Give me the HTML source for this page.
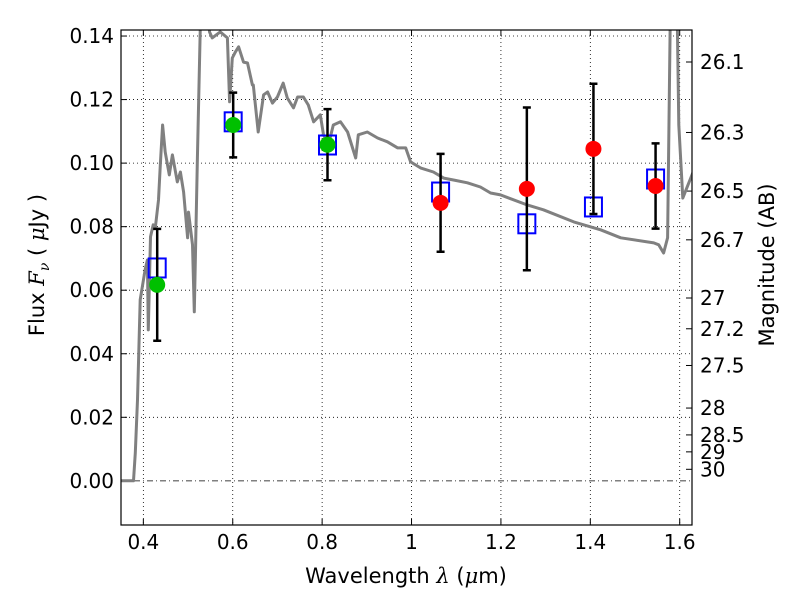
<!DOCTYPE html>
<html><head><meta charset="utf-8"><style>
html,body{margin:0;padding:0;background:#fff;}
svg{display:block;font-family:"DejaVu Sans","Liberation Sans",sans-serif;}
</style></head><body>
<svg id="chart" width="800" height="600"></svg>
<script>
const xTicks=[0.4,0.6,0.8,1.0,1.2,1.4,1.6];
const xTickLabels=["0.4","0.6","0.8","1","1.2","1.4","1.6"];
const yTicks=[0,0.02,0.04,0.06,0.08,0.10,0.12,0.14];
const yTickLabels=["0.00","0.02","0.04","0.06","0.08","0.10","0.12","0.14"];
const magTicks=[26.1,26.3,26.5,26.7,27,27.2,27.5,28,28.5,29,30];
const magLabels=["26.1","26.3","26.5","26.7","27","27.2","27.5","28","28.5","29","30"];
const specLam=[0.351,0.378,0.382,0.387,0.393,0.404,0.409,0.411,0.416,0.422,0.427,0.434,0.438,0.443,0.449,0.458,0.465,0.476,0.483,0.490,0.499,0.501,0.510,0.514,0.521,0.53,0.545,0.548,0.554,0.572,0.588,0.593,0.599,0.606,0.613,0.624,0.633,0.644,0.646,0.657,0.669,0.678,0.689,0.700,0.713,0.722,0.736,0.745,0.758,0.769,0.781,0.796,0.803,0.814,0.825,0.841,0.857,0.875,0.881,0.901,0.924,0.946,0.969,0.987,0.998,1.020,1.049,1.072,1.094,1.125,1.154,1.177,1.199,1.260,1.295,1.363,1.423,1.468,1.542,1.553,1.564,1.573,1.580,1.593,1.598,1.607,1.63];
const specFlux=[0,0,0.0088,0.0255,0.057,0.0664,0.0695,0.0475,0.0768,0.0806,0.0799,0.0884,0.0994,0.112,0.1035,0.0963,0.1026,0.0941,0.0972,0.0909,0.0765,0.0846,0.0743,0.0532,0.1016,0.16,0.16,0.1413,0.1394,0.1413,0.1394,0.1193,0.1331,0.135,0.1366,0.1318,0.1315,0.1246,0.1246,0.1098,0.1215,0.1224,0.1189,0.1208,0.1252,0.1205,0.1174,0.1208,0.1208,0.1183,0.113,0.1152,0.1089,0.1057,0.112,0.113,0.1098,0.1016,0.1089,0.1098,0.1079,0.1067,0.1048,0.1048,0.1004,0.0985,0.0972,0.0953,0.0947,0.0938,0.0925,0.0906,0.09,0.0868,0.0853,0.0815,0.079,0.0765,0.0749,0.0743,0.0717,0.0765,0.16,0.16,0.112,0.089,0.0972];
const obsLam=[0.431,0.601,0.812,1.065,1.258,1.407,1.546];
const obsFlux=[0.0617,0.112,0.1058,0.0875,0.0919,0.1045,0.0928];
const obsErr=[0.0176,0.0102,0.0112,0.0154,0.0256,0.0205,0.0134];
const obsGreen=[true,true,true,false,false,false,false];
const modelFlux=[0.067,0.113,0.1057,0.0909,0.0809,0.0862,0.095];

const L=121,R=692,T=30,B=525;
const xMin=0.35,xMax=1.6275,yMin=-0.0139,yMax=0.1419;
const X=v=>L+(v-xMin)/(xMax-xMin)*(R-L);
const Y=v=>B-(v-yMin)/(yMax-yMin)*(B-T);
const NS="http://www.w3.org/2000/svg";
const svg=document.getElementById('chart');
function mk(tag,attrs,parent){const e=document.createElementNS(NS,tag);for(const k in attrs)e.setAttribute(k,attrs[k]);(parent||svg).appendChild(e);return e;}

const defs=mk('defs',{});
const cp=mk('clipPath',{id:'clip'},defs);
mk('rect',{x:L,y:T,width:R-L,height:B-T},cp);

xTicks.forEach((t,i)=>{
 const g=mk('line',{x1:X(t),x2:X(t),y1:T,y2:B,stroke:'#000','stroke-width':0.8,'stroke-dasharray':'1,3'});
 
 
 mk('line',{x1:X(t),x2:X(t),y1:B,y2:B-6,stroke:'#000'});
 mk('line',{x1:X(t),x2:X(t),y1:T,y2:T+6,stroke:'#000'});
 const tx=mk('text',{x:X(t),y:B+24,'font-size':20,'text-anchor':'middle'});
 tx.textContent=xTickLabels[i];
 
 
});
yTicks.forEach((t,i)=>{
 const g=mk('line',{x1:L,x2:R,y1:Y(t),y2:Y(t),stroke:'#000','stroke-width':0.8,'stroke-dasharray':t===0?'6,3,1,3':'1,3'});
 
 
 mk('line',{x1:L,x2:L+6,y1:Y(t),y2:Y(t),stroke:'#000'});
 const tx=mk('text',{x:L-7,y:Y(t)+7,'font-size':20,'text-anchor':'end'});
 tx.textContent=yTickLabels[i];
 
 
});
magTicks.forEach((m,i)=>{
 const f=Math.pow(10,(23.9-m)/2.5);
 const y=Y(f);
 mk('line',{x1:R,x2:R-6,y1:y,y2:y,stroke:'#000'});
 const tx=mk('text',{x:R+8,y:y+7,'font-size':20});
 tx.textContent=magLabels[i];
 
 
});

let d='';
specLam.forEach((l,i)=>{d+=(i?'L':'M')+X(l).toFixed(1)+','+Y(specFlux[i]).toFixed(1);});
const sp=mk('path',{d:d,fill:'none',stroke:'#808080','stroke-width':3,'clip-path':'url(#clip)','stroke-linejoin':'round'});



obsLam.forEach((l,i)=>{
 const s=mk('rect',{x:X(l)-8.5,y:Y(modelFlux[i])-9.5,width:17,height:19,fill:'none',stroke:'#0000ff','stroke-width':2});
 
 
});
obsLam.forEach((l,i)=>{
 const x=X(l),y1=Y(obsFlux[i]+obsErr[i]),y2=Y(obsFlux[i]-obsErr[i]);
 const e=mk('path',{d:`M${x},${y1}L${x},${y2}M${x-4},${y1}L${x+4},${y1}M${x-4},${y2}L${x+4},${y2}`,stroke:'#000','stroke-width':2.5,fill:'none'});
 
 
 const c=mk('circle',{cx:x,cy:Y(obsFlux[i]),r:8,fill:obsGreen[i]?'#00c000':'#ff0000'});
 
 
});

const frame=mk('rect',{x:L,y:T,width:R-L,height:B-T,fill:'none',stroke:'#000','stroke-width':1.2});



const xl=mk('text',{x:406,y:583,'font-size':21,'text-anchor':'middle'});
xl.innerHTML='Wavelength  <tspan font-style="italic" font-family="DejaVu Serif,serif">λ</tspan> (<tspan font-style="italic" font-family="DejaVu Serif,serif">μ</tspan>m)';


const yl=mk('text',{x:0,y:0,'font-size':21,'text-anchor':'middle',transform:'translate(44,265) rotate(-90)'});
yl.innerHTML='Flux  <tspan font-style="italic" font-family="DejaVu Serif,serif">F</tspan><tspan font-style="italic" font-size="14" dy="5" font-family="DejaVu Serif,serif">ν</tspan><tspan dy="-5">  (  </tspan><tspan font-style="italic" font-family="DejaVu Serif,serif">μ</tspan>Jy )';


const rl=mk('text',{x:0,y:0,'font-size':21,'text-anchor':'middle',transform:'translate(774,265) rotate(-90)'});
rl.textContent='Magnitude (AB)';


</script>
</body></html>
